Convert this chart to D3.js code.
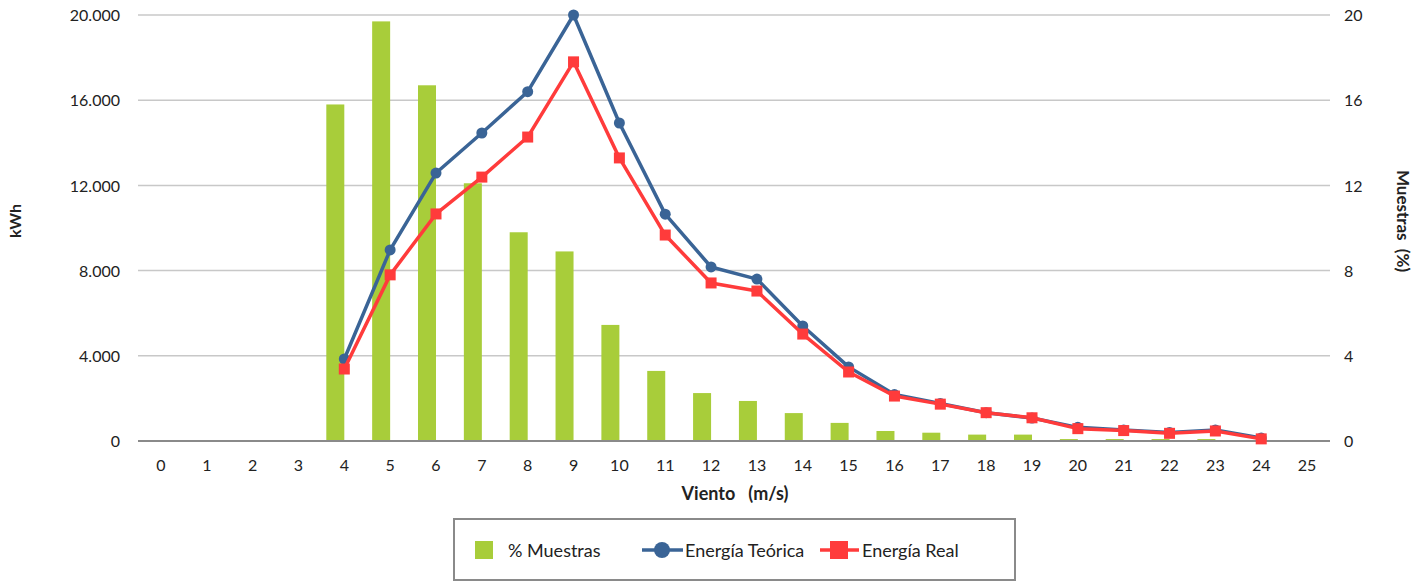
<!DOCTYPE html>
<html>
<head>
<meta charset="utf-8">
<script src="https://cdn.jsdelivr.net/npm/d3@7"></script>
<style>
  body { margin: 0; background: #fff; }
  svg text { font-family: Lato, "Open Sans", sans-serif; fill: #222; }
</style>
</head>
<body>
<div id="chart"></div>
<script>
// wind speed categories (m/s)
var viento = d3.range(0, 26);
// % of samples per wind speed (right axis)
var muestras = [0, 0, 0, 0, 15.8, 19.7, 16.7, 12.1, 9.8, 8.9, 5.45, 3.29, 2.25, 1.88, 1.31, 0.85,
                0.47, 0.39, 0.30, 0.30, 0.09, 0.09, 0.09, 0.09, 0, 0];
// theoretical energy, kWh (left axis), from 4 to 24 m/s
var energiaTeorica = [null, null, null, null, 3850, 8970, 12580, 14460, 16400, 20000, 14930, 10650,
                      8170, 7600, 5400, 3480, 2180, 1760, 1330, 1080, 640, 520, 400, 520, 140, null];
// real energy, kWh (left axis)
var energiaReal = [null, null, null, null, 3380, 7800, 10660, 12390, 14270, 17800, 13290, 9670,
                   7420, 7040, 5020, 3240, 2110, 1730, 1330, 1090, 580, 490, 360, 470, 100, null];
var leftTicks = [0, 4000, 8000, 12000, 16000, 20000];
var rightTicks = [0, 4, 8, 12, 16, 20];

var W = 1425, H = 582;
var margin = {top: 15, right: 95, bottom: 141, left: 138},
    width = W - margin.left - margin.right,
    height = H - margin.top - margin.bottom;

var svg = d3.select("#chart").append("svg")
    .attr("width", W)
    .attr("height", H);
var g = svg.append("g")
    .attr("transform", "translate(" + margin.left + "," + margin.top + ")");

var x = d3.scaleBand().domain(viento).range([0, width]);
var yL = d3.scaleLinear().domain([0, 20000]).range([height, 0]);
var yR = d3.scaleLinear().domain([0, 20]).range([height, 0]);
var fmt = function(d) { return d === 0 ? "0" : d3.format(",")(d).replace(/,/g, "."); };

// gridlines
g.selectAll(".grid").data(leftTicks.slice(1))
  .enter().append("line")
    .attr("x1", 0).attr("x2", width)
    .attr("y1", function(d) { return yL(d); })
    .attr("y2", function(d) { return yL(d); })
    .attr("stroke", "#c8c8c8").attr("stroke-width", 1.5);

// left axis
var axL = g.append("g").call(d3.axisLeft(yL).tickValues(leftTicks).tickFormat(fmt).tickSize(0).tickPadding(18));
axL.select(".domain").remove();
axL.selectAll("text").style("font-size", "16px").attr("dy", "0.35em");

// right axis
var axR = g.append("g").attr("transform", "translate(" + width + ",0)")
    .call(d3.axisRight(yR).tickValues(rightTicks).tickSize(0).tickPadding(14));
axR.select(".domain").remove();
axR.selectAll("text").style("font-size", "16px").attr("dy", "0.35em");

// bars (left half of the category, like an Excel cluster)
var bw = 18;
g.selectAll(".bar").data(viento)
  .enter().append("rect")
    .attr("x", function(d) { return x(d) + x.bandwidth() / 2 - bw; })
    .attr("width", bw)
    .attr("y", function(d, i) { return yR(muestras[i]); })
    .attr("height", function(d, i) { return height - yR(muestras[i]); })
    .attr("fill", "#a8cd3a");

// baseline
g.append("line").attr("x1", 0).attr("x2", width).attr("y1", height).attr("y2", height)
  .attr("stroke", "#8a8a8a").attr("stroke-width", 2);

// x axis labels
var axX = g.append("g").attr("transform", "translate(0," + height + ")")
    .call(d3.axisBottom(x).tickSize(0).tickPadding(19));
axX.select(".domain").remove();
axX.selectAll("text").style("font-size", "16px");

var cx = function(i) { return x(viento[i]) + x.bandwidth() / 2; };
var line = d3.line()
    .defined(function(d) { return d != null; })
    .x(function(d, i) { return cx(i); })
    .y(function(d) { return yL(d); });

// Energía Teórica
g.append("path").datum(energiaTeorica)
  .attr("d", line).attr("fill", "none").attr("stroke", "#3a6496").attr("stroke-width", 3.5)
  .attr("stroke-linejoin", "round");
g.selectAll(".dotT").data(energiaTeorica.map(function(v, i) { return {v: v, i: i}; }).filter(function(d) { return d.v != null; }))
  .enter().append("circle")
    .attr("cx", function(d) { return cx(d.i); })
    .attr("cy", function(d) { return yL(d.v); })
    .attr("r", 5.5).attr("fill", "#3a6496");

// Energía Real
g.append("path").datum(energiaReal)
  .attr("d", line).attr("fill", "none").attr("stroke", "#ff3b3b").attr("stroke-width", 3.5)
  .attr("stroke-linejoin", "round");
g.selectAll(".dotR").data(energiaReal.map(function(v, i) { return {v: v, i: i}; }).filter(function(d) { return d.v != null; }))
  .enter().append("rect")
    .attr("x", function(d) { return cx(d.i) - 5.5; })
    .attr("y", function(d) { return yL(d.v) - 5.5; })
    .attr("width", 11).attr("height", 11).attr("fill", "#ff3b3b");

// axis titles
svg.append("text").attr("transform", "translate(21,221) rotate(-90)")
  .attr("text-anchor", "middle").style("font-size", "16px").style("font-weight", "bold").text("kWh");
svg.append("text").attr("transform", "translate(1397,221) rotate(90)")
  .attr("text-anchor", "middle").style("font-size", "17px").style("font-weight", "bold")
  .attr("xml:space", "preserve").text("Muestras  (%)");
svg.append("text").attr("x", 735).attr("y", 500)
  .attr("text-anchor", "middle").style("font-size", "18px").style("font-weight", "bold")
  .attr("xml:space", "preserve").text("Viento   (m/s)");

// legend
var lg = svg.append("g");
lg.append("rect").attr("x", 454).attr("y", 519).attr("width", 561).attr("height", 61)
  .attr("fill", "#fff").attr("stroke", "#8a8a8a").attr("stroke-width", 2);
lg.append("rect").attr("x", 475).attr("y", 541).attr("width", 18).attr("height", 18).attr("fill", "#a8cd3a");
lg.append("text").attr("x", 508).attr("y", 557).style("font-size", "18px").text("% Muestras");
lg.append("line").attr("x1", 642).attr("x2", 683).attr("y1", 550).attr("y2", 550)
  .attr("stroke", "#3a6496").attr("stroke-width", 3.5);
lg.append("circle").attr("cx", 662).attr("cy", 550).attr("r", 8).attr("fill", "#3a6496");
lg.append("text").attr("x", 685).attr("y", 557).style("font-size", "18px").text("Energía Teórica");
lg.append("line").attr("x1", 820).attr("x2", 859).attr("y1", 550).attr("y2", 550)
  .attr("stroke", "#ff3b3b").attr("stroke-width", 3.5);
lg.append("rect").attr("x", 830).attr("y", 541).attr("width", 18).attr("height", 18).attr("fill", "#ff3b3b");
lg.append("text").attr("x", 862).attr("y", 557).style("font-size", "18px").text("Energía Real");
</script>
</body>
</html>
